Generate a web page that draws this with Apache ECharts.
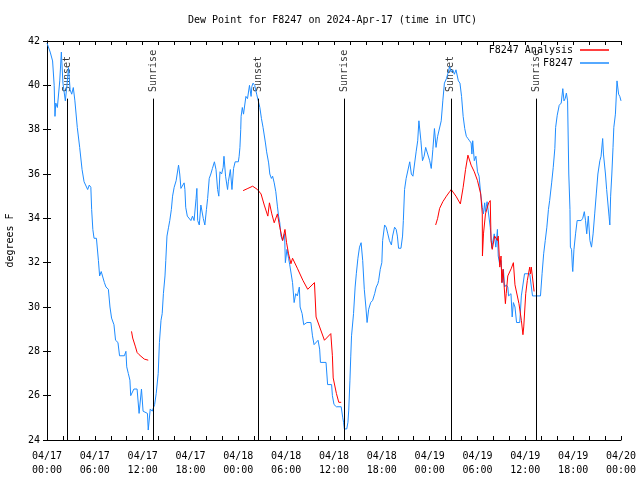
<!DOCTYPE html>
<html>
<head>
<meta charset="utf-8">
<script src="https://cdn.jsdelivr.net/npm/echarts@6/dist/echarts.min.js"></script>
<style>html,body{margin:0;padding:0;background:#fff;}#c{width:640px;height:480px;}</style>
</head>
<body>
<div id="c"></div>
<script>
// Time in hours since 2024-04-17 00:00 UTC
const blueHours = [0.0,0.4,0.7,0.9,1.0,1.1,1.3,1.6,1.8,2.0,2.3,2.5,2.7,2.9,3.1,3.3,3.5,3.8,4.1,4.4,4.65,5.1,5.3,5.5,5.6,5.75,5.9,6.2,6.45,6.6,6.8,7.2,7.4,7.7,7.9,8.1,8.4,8.6,8.9,9.1,9.7,9.9,10.0,10.2,10.4,10.5,10.9,11.3,11.55,11.85,12.05,12.6,12.7,12.95,13.2,13.5,13.7,13.95,14.1,14.3,14.45,14.6,14.8,14.9,15.05,15.25,15.4,15.6,15.75,15.95,16.2,16.4,16.5,16.65,16.8,17.0,17.2,17.3,17.4,17.6,17.8,18.05,18.25,18.45,18.7,18.8,18.9,19.1,19.3,19.5,19.6,19.8,20.0,20.15,20.35,20.55,20.75,21.0,21.2,21.4,21.55,21.7,21.9,22.1,22.2,22.4,22.65,22.75,23.0,23.2,23.4,23.6,24.0,24.1,24.2,24.3,24.35,24.5,24.65,24.95,25.15,25.4,25.6,25.7,25.85,26.05,26.3,26.5,26.7,26.9,27.1,27.4,27.55,27.8,27.95,28.15,28.3,28.5,28.7,28.9,29.05,29.2,29.35,29.55,29.8,29.9,30.1,30.3,30.45,30.6,30.8,31.0,31.2,31.4,31.65,31.75,32.0,32.2,32.4,32.6,33.1,33.3,33.5,33.7,34.0,34.2,34.3,35.0,35.2,35.7,35.8,36.0,36.3,36.9,37.1,37.2,37.3,37.6,37.75,37.85,38.0,38.1,38.2,38.45,38.65,38.8,39.0,39.2,39.4,39.6,39.8,40.0,40.15,40.35,40.6,40.85,41.1,41.3,41.5,41.6,41.8,42.0,42.1,42.35,42.55,42.75,42.95,43.2,43.35,43.6,43.8,43.95,44.1,44.4,44.6,44.7,44.85,45.05,45.25,45.5,45.7,45.9,46.1,46.3,46.5,46.65,46.9,47.1,47.3,47.5,47.75,48.0,48.2,48.4,48.6,48.8,49.0,49.2,49.45,49.65,49.85,50.1,50.3,50.5,50.7,50.9,51.1,51.3,51.6,51.8,52.0,52.2,52.4,52.6,52.8,53.0,53.2,53.3,53.4,53.6,53.8,54.0,54.2,54.4,54.6,54.75,54.9,55.0,55.2,55.4,55.6,55.8,55.9,56.1,56.3,56.5,56.6,56.8,56.95,57.1,57.25,57.4,57.6,57.8,57.9,58.2,58.35,58.5,58.7,58.9,59.3,59.5,59.7,59.9,60.55,60.9,61.9,62.1,62.3,62.5,62.7,62.9,63.05,63.3,63.5,63.7,63.8,64.0,64.25,64.5,64.7,64.85,65.0,65.15,65.3,65.45,65.6,65.65,65.8,65.9,65.95,66.1,66.3,66.5,67.0,67.2,67.4,67.55,67.7,67.9,68.1,68.3,68.5,68.7,68.9,69.1,69.35,69.5,69.65,69.7,69.8,70.05,70.2,70.35,70.5,70.6,70.7,70.85,71.0,71.1,71.3,71.5,71.7,71.85,72.0];
const blueValues = [41.9,41.5,41.1,40.0,38.6,39.2,39.0,40.2,41.5,40.1,39.3,40.0,40.8,39.8,39.6,39.9,39.3,38.1,37.2,36.2,35.65,35.3,35.5,35.4,34.4,33.5,33.1,33.1,32.1,31.4,31.6,31.1,30.9,30.8,30.0,29.5,29.2,28.5,28.4,27.8,27.8,28.0,27.3,27.0,26.7,26.0,26.3,26.3,25.2,26.3,25.3,25.2,24.45,25.4,25.3,25.6,26.1,27.0,28.4,29.4,29.7,30.6,31.4,32.1,33.2,33.6,33.9,34.4,35.0,35.4,35.7,35.65,36.4,36.0,35.35,35.3,35.6,35.3,34.5,34.1,34.1,33.9,34.1,33.9,34.9,35.35,33.9,33.7,34.6,34.6,34.0,33.7,34.4,34.9,35.8,36.0,36.25,36.55,36.2,35.3,35.0,36.1,36.0,36.3,36.8,35.9,35.3,35.65,36.2,35.3,36.25,36.55,36.55,36.8,37.2,38.0,38.6,39.0,38.7,39.5,39.4,40.0,39.5,39.95,40.1,40.0,39.6,39.3,39.0,38.5,38.1,37.4,37.0,36.5,36.0,35.8,35.9,35.6,35.2,34.55,34.1,33.8,33.2,33.0,33.3,32.0,32.6,32.2,31.9,31.9,31.1,30.2,30.6,30.5,30.9,30.0,29.7,29.2,29.2,29.3,29.3,28.7,28.3,28.3,28.5,28.1,27.5,27.5,26.5,26.5,26.0,25.6,25.5,25.5,25.0,24.8,24.5,24.5,24.8,25.35,26.7,27.75,28.7,29.7,30.9,31.5,32.2,32.7,32.9,32.1,30.8,30.0,29.3,29.9,30.2,30.3,30.6,30.9,31.05,31.2,31.7,32.0,33.0,33.7,33.6,33.3,33.0,32.8,33.2,33.6,33.5,33.2,32.65,32.65,33.2,33.9,35.3,35.8,35.8,36.55,36.0,35.9,35.9,37.0,37.5,38.4,37.5,36.6,36.8,37.2,36.9,36.6,36.25,37.1,38.05,37.2,37.7,37.7,38.4,39.3,40.1,40.3,40.55,40.85,40.6,40.7,40.5,40.7,40.2,40.1,39.5,38.6,38.05,37.7,37.6,37.5,37.4,36.9,37.5,36.6,36.8,36.1,35.9,35.1,34.5,34.2,34.7,34.3,34.75,34.7,33.6,32.65,32.9,33.3,32.7,33.5,32.3,31.9,32.1,31.1,31.7,30.9,31.0,30.9,30.5,30.6,29.55,30.2,30.0,29.3,29.3,30.5,30.5,31.5,31.5,30.5,30.5,31.5,32.4,33.0,33.6,34.4,34.8,35.6,36.3,37.15,38.1,38.65,39.1,39.2,39.85,39.3,39.4,39.65,39.3,36.0,34.4,32.7,32.6,31.8,31.6,32.6,33.3,33.9,33.9,34.0,34.3,33.9,33.3,34.1,33.0,32.7,33.3,34.2,35.1,36.0,36.6,36.8,37.4,37.6,36.9,36.0,35.3,35.3,34.1,33.7,35.0,36.0,37.2,38.1,38.7,40.2,39.6,39.5,39.3];

// Analysis series, three separate segments
const redSeg1Hours = [10.6,10.75,11.1,11.3,11.55,12.2,12.7];
const redSeg1Values = [28.9,28.6,28.2,27.95,27.85,27.65,27.6];
const redSeg2Hours = [24.6,25.2,25.8,26.4,26.85,27.25,27.7,27.9,28.2,28.5,28.9,29.2,29.55,29.85,30.05,30.3,30.6,30.8,31.4,32.1,32.7,33.55,33.75,34.2,34.8,35.6,35.75,35.8,35.9,36.3,36.6,36.9];
const redSeg2Values = [35.25,35.35,35.45,35.3,35.1,34.6,34.1,34.7,34.2,33.8,34.2,33.6,33.0,33.5,32.9,32.4,31.95,32.2,31.75,31.2,30.8,31.1,29.55,29.1,28.5,28.8,28.8,27.8,26.8,26.1,25.7,25.7];
const redSeg3Hours = [48.75,49.0,49.25,49.65,50.1,50.5,50.7,51.3,51.85,52.2,52.5,52.8,53.2,53.6,54.0,54.4,54.6,54.62,54.75,55.0,55.4,55.6,55.7,55.85,56.15,56.5,56.6,56.8,56.95,57.05,57.2,57.35,57.5,57.6,57.8,58.25,58.5,58.7,59.2,59.5,59.7,59.8,60.05,60.25,60.55,60.65,60.75,61.1];
const redSeg3Values = [33.7,34.0,34.45,34.75,35.0,35.2,35.3,35.0,34.65,35.4,36.2,36.85,36.4,36.1,35.7,35.1,34.2,32.3,33.3,34.2,34.7,34.8,33.0,32.6,33.2,33.0,33.2,31.8,32.3,31.1,31.7,30.9,30.15,30.6,31.4,31.75,32.0,31.0,30.15,29.4,28.75,29.1,30.6,31.2,31.8,31.5,31.8,30.7];

const sunEventHours = [2.55,13.35,26.5,37.3,50.65,61.4];
const sunEventLabels = ['Sunset','Sunrise','Sunset','Sunrise','Sunset','Sunrise'];

const yTicks = [24,26,28,30,32,34,36,38,40,42];
const xMin = 0, xMax = 72, xTickStep = 2, xLabelStep = 6;
const startDay = 17, monthStr = '04';

const FONT = 'DejaVu Sans Mono';
const zip = (a, b) => a.map((v, i) => [v, b[i]]);
const blueData = zip(blueHours, blueValues);
const redData = [].concat(zip(redSeg1Hours, redSeg1Values), [[12.8, null]],
  zip(redSeg2Hours, redSeg2Values), [[37.0, null]], zip(redSeg3Hours, redSeg3Values));

function xLabel(v) {
  if (Math.round(v) % xLabelStep !== 0) return '';
  const d = startDay + Math.floor(v / 24);
  const h = Math.round(v % 24);
  return monthStr + '/' + String(d).padStart(2, '0') + '\n' + String(h).padStart(2, '0') + ':00';
}

const sunLines = sunEventHours.map(t => [{ coord: [t, 24] }, { coord: [t, 39.4] }]);
const sunLabelData = sunEventHours.map((t, i) => ({ value: [t, 39.7], name: sunEventLabels[i] }));

const chart = echarts.init(document.getElementById('c'), null, { renderer: 'canvas' });
chart.setOption({
  animation: false,
  backgroundColor: '#ffffff',
  textStyle: { fontFamily: FONT },
  title: {
    text: 'Dew Point for F8247 on 2024-Apr-17 (time in UTC)',
    left: 188, top: 15, padding: 0,
    textStyle: { fontFamily: FONT, fontSize: 10, fontWeight: 'normal', color: '#000' }
  },
  legend: {
    orient: 'vertical', right: 26, top: 40, align: 'right',
    itemWidth: 29, itemHeight: 1.5, itemGap: 3, icon: 'rect',
    textStyle: { fontFamily: FONT, fontSize: 10, color: '#000', padding: [0, 2, 0, 0] },
    data: ['F8247 Analysis', 'F8247']
  },
  grid: { left: 47, right: 19, top: 41, bottom: 40, containLabel: false, outerBoundsMode: 'none' },
  xAxis: [{
    type: 'value', min: xMin, max: xMax, interval: xTickStep,
    axisLine: { lineStyle: { color: '#000', width: 1 } },
    axisTick: { inside: true, length: 4, lineStyle: { color: '#000' } },
    axisLabel: { formatter: xLabel, fontFamily: FONT, fontSize: 10, color: '#000', lineHeight: 14, margin: 9, showMinLabel: true, showMaxLabel: true },
    splitLine: { show: false }
  }, {
    type: 'value', position: 'top', min: xMin, max: xMax, interval: xTickStep,
    axisLine: { show: true, lineStyle: { color: '#000', width: 1 } },
    axisTick: { inside: true, length: 4, lineStyle: { color: '#000' } },
    axisLabel: { show: false }, splitLine: { show: false }
  }],
  yAxis: [{
    type: 'value', min: yTicks[0], max: yTicks[yTicks.length - 1], interval: 2,
    name: 'degrees F', nameLocation: 'middle', nameRotate: 90, nameGap: 32,
    nameTextStyle: { fontFamily: FONT, fontSize: 10, color: '#000' },
    axisLine: { show: true, lineStyle: { color: '#000', width: 1 } },
    axisTick: { show: true, inside: true, length: 4, lineStyle: { color: '#000' } },
    axisLabel: { fontFamily: FONT, fontSize: 10, color: '#000', margin: 7 },
    splitLine: { show: false }
  }, {
    type: 'value', position: 'right', min: yTicks[0], max: yTicks[yTicks.length - 1], interval: 2,
    axisLine: { show: true, lineStyle: { color: '#000', width: 1 } },
    axisTick: { show: true, inside: true, length: 4, lineStyle: { color: '#000' } },
    axisLabel: { show: false }, splitLine: { show: false }
  }],
  series: [{
    name: 'F8247', type: 'line', data: blueData, showSymbol: false, symbol: 'none',
    lineStyle: { color: '#1e8cff', width: 1 }, itemStyle: { color: '#1e8cff' },
    z: 3,
    markLine: {
      silent: true, symbol: 'none', label: { show: false },
      lineStyle: { color: '#000', width: 1, type: 'solid' },
      data: sunLines
    }
  }, {
    name: 'F8247 Analysis', type: 'line', data: redData, showSymbol: false, symbol: 'none',
    connectNulls: false,
    lineStyle: { color: '#ff0000', width: 1 }, itemStyle: { color: '#ff0000' }, z: 4
  }, {
    type: 'scatter', data: sunLabelData, symbolSize: 0, silent: true,
    label: {
      show: true, formatter: p => p.name, position: [0, 0], rotate: 90,
      align: 'left', verticalAlign: 'middle',
      fontFamily: FONT, fontSize: 10, color: '#000'
    }
  }]
});
</script>
</body>
</html>
